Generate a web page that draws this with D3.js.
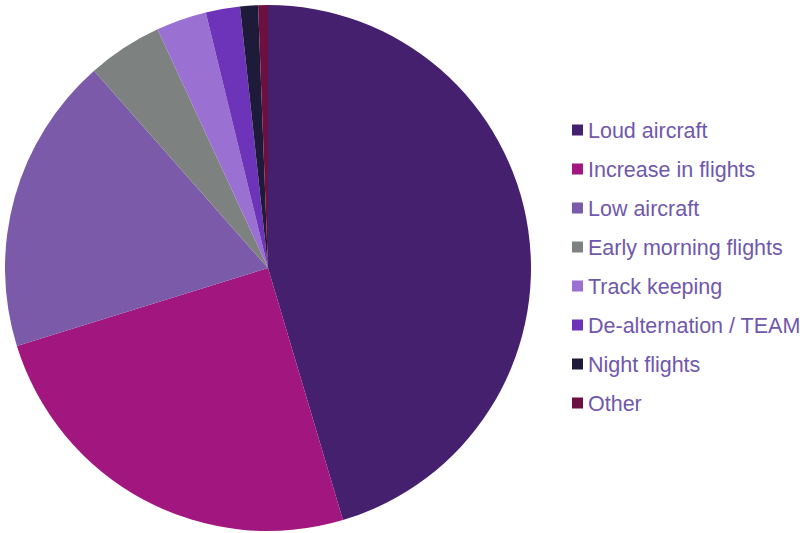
<!DOCTYPE html>
<html>
<head>
<meta charset="utf-8">
<script src="https://cdn.jsdelivr.net/npm/d3@7"></script>
<style>
  body { margin: 0; background: #fff; }
  svg { display: block; }
</style>
</head>
<body>
<div id="chart"></div>
<script>
const categories = ["Loud aircraft", "Increase in flights", "Low aircraft", "Early morning flights",
    "Track keeping", "De-alternation / TEAM", "Night flights", "Other"];
const shares = [45.4, 24.8, 18.3, 4.6, 3.1, 2.1, 1.1, 0.6];
const colours = ["#45206f", "#a1167f", "#7b5ba9", "#7d817f", "#9a70d2", "#6d33b9", "#1e1a3a", "#6b1040"];

const W = 806, H = 533;
const cx = 268, cy = 268, R = 263;

let svg = d3.select("#chart").append("svg").attr("width", W).attr("height", H);

let pie = d3.pie().sort(null).value(d => d.v);
let arc = d3.arc().innerRadius(0).outerRadius(R);
let rows = categories.map((c, i) => ({ name: c, v: shares[i], col: colours[i] }));

svg.append("g")
    .attr("transform", `translate(${cx},${cy})`)
    .selectAll("path")
    .data(pie(rows))
    .join("path")
    .attr("d", arc)
    .attr("fill", d => d.data.col);

// legend
let y = d3.scalePoint().domain(categories).range([130, 403]);
let legend = svg.append("g").selectAll("g")
    .data(rows)
    .join("g")
    .attr("transform", d => `translate(572,${y(d.name)})`);

legend.append("rect")
    .attr("x", 0).attr("y", -5.5)
    .attr("width", 11).attr("height", 11)
    .attr("fill", d => d.col);

legend.append("text")
    .attr("x", 16).attr("y", 0)
    .attr("dy", "0.36em")
    .attr("font-family", "'Liberation Sans', Arial, sans-serif")
    .attr("font-size", 21.5)
    .attr("fill", "#7058ac")
    .text(d => d.name);
</script>
</body>
</html>
